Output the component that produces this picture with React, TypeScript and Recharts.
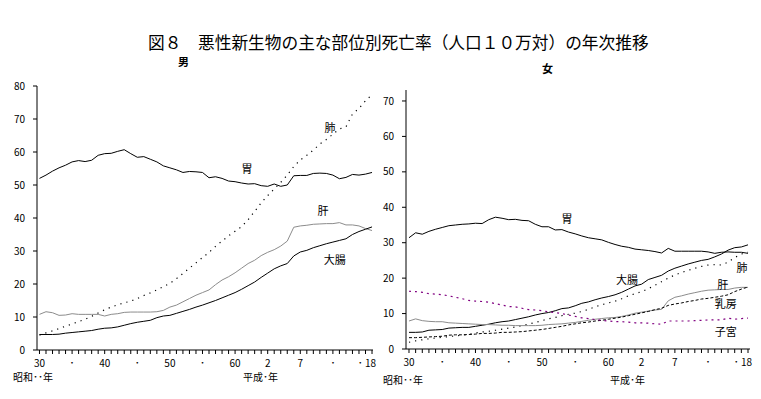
import React from 'react';
import { LineChart, Line, XAxis, YAxis, ReferenceDot } from 'recharts';

// 昭和30年〜平成18年（昭和81年相当）
const years = [
  30, 31, 32, 33, 34, 35, 36, 37, 38, 39, 40, 41, 42, 43, 44, 45, 46, 47, 48, 49,
  50, 51, 52, 53, 54, 55, 56, 57, 58, 59, 60, 61, 62, 63, 64, 65, 66, 67, 68, 69,
  70, 71, 72, 73, 74, 75, 76, 77, 78, 79, 80, 81,
];

const xTickLabels: Record<number, string> = {
  30: '30', 35: '･', 40: '40', 45: '･', 50: '50', 55: '･', 60: '60', 65: '2', 70: '7', 75: '･', 81: '･ 18',
};

// 男
const maleStomach = [
  52.0, 53.0, 54.2, 55.2, 56.0, 57.0, 57.4, 57.1, 57.5, 59.0, 59.5, 59.6, 60.2, 60.7, 59.5, 58.4, 58.6, 57.8, 57.0, 55.8,
  55.2, 54.6, 53.8, 54.1, 54.0, 53.8, 52.2, 52.5, 52.0, 51.2, 51.0, 50.6, 50.3, 50.4, 49.8, 49.6, 50.3, 49.6, 50.0, 52.8,
  52.9, 52.9, 53.5, 53.6, 53.5, 53.0, 51.9, 52.3, 53.2, 53.0, 53.3, 53.8,
];
const maleLung = [
  4.5, 5.2, 5.8, 6.5, 7.2, 7.9, 8.6, 9.3, 10.2, 11.2, 12.2, 13.0, 13.7, 14.3, 14.8, 15.6, 16.5, 17.3, 18.2, 19.2,
  20.2, 21.6, 23.2, 24.8, 26.4, 28.0, 29.6, 31.4, 33.0, 34.6, 36.0, 37.4, 39.5, 42.0, 44.6, 46.8, 48.8, 50.8, 53.0, 55.6,
  57.6, 59.0, 60.6, 62.4, 63.8, 65.4, 67.0, 67.6, 71.5, 73.2, 75.5, 77.4,
];
const maleLiver = [
  10.8, 11.6, 11.3, 10.5, 10.6, 11.0, 10.8, 10.8, 10.8, 10.8, 10.3, 10.8, 11.0, 11.4, 11.5, 11.5, 11.5, 11.5, 11.6, 12.0,
  13.0, 13.6, 14.6, 15.6, 16.6, 17.4, 18.2, 19.8, 21.2, 22.2, 23.4, 24.8, 26.2, 27.2, 28.6, 29.6, 30.4, 31.5, 33.0, 37.2,
  37.6, 37.8, 38.1, 38.2, 38.3, 38.3, 38.6, 37.9, 37.9, 37.6, 36.8, 36.2,
];
const maleColon = [
  4.7, 4.7, 4.7, 4.8, 5.1, 5.3, 5.5, 5.7, 5.9, 6.3, 6.6, 6.7, 7.0, 7.5, 8.0, 8.4, 8.7, 9.0, 9.8, 10.3,
  10.5, 11.1, 11.7, 12.3, 13.0, 13.6, 14.3, 15.0, 15.8, 16.6, 17.4, 18.4, 19.5, 20.6, 22.0, 23.3, 24.6, 25.5, 26.2, 28.5,
  29.7, 30.2, 31.0, 31.6, 32.2, 32.7, 33.2, 33.7, 35.0, 35.9, 36.6, 37.3,
];

// 女
const femaleStomach = [
  31.4, 32.8, 32.4, 33.2, 33.8, 34.3, 34.8, 35.0, 35.2, 35.3, 35.5, 35.4, 36.5, 37.2, 36.9, 36.5, 36.6, 36.3, 36.2, 35.2,
  34.5, 34.5, 33.6, 33.7, 33.0, 32.5, 31.9, 31.4, 31.1, 30.8, 30.1, 29.5, 29.0, 28.7, 28.2, 28.0, 27.8, 27.5, 27.1, 28.4,
  27.6, 27.6, 27.6, 27.6, 27.6, 27.4, 27.0, 27.3, 27.4, 27.3, 27.3, 27.0,
];
const femaleColon = [
  4.7, 4.7, 4.8, 5.3, 5.4, 5.5, 5.9, 6.0, 6.1, 6.1, 6.4, 6.7, 7.0, 7.4, 7.7, 7.9, 8.3, 8.7, 9.1, 9.6,
  10.0, 10.3, 10.8, 11.4, 11.6, 12.2, 12.9, 13.3, 13.9, 14.4, 14.8, 15.3, 16.0, 16.9, 17.8, 18.3, 19.6, 20.2, 20.8, 22.0,
  22.8, 23.4, 24.0, 24.5, 25.0, 25.3, 26.0, 26.8, 27.9, 28.6, 28.8, 29.4,
];
const femaleLung = [
  1.9, 2.3, 2.6, 2.9, 3.1, 3.3, 3.5, 3.7, 3.9, 4.1, 4.5, 4.8, 5.0, 5.3, 5.6, 5.9, 6.2, 6.6, 7.0, 7.5,
  8.0, 8.5, 8.9, 9.4, 9.8, 10.1, 10.6, 11.2, 11.9, 12.5, 13.0, 13.5, 14.2, 15.0, 15.6, 16.2, 17.0, 18.0, 19.0, 20.0,
  20.9, 21.6, 22.2, 22.8, 23.3, 23.7, 23.8, 23.7, 24.5, 25.8, 26.8, 27.3,
];
const femaleLiver = [
  7.9, 8.5, 8.0, 7.8, 7.7, 7.7, 7.4, 7.3, 7.2, 7.1, 7.0, 6.9, 6.9, 6.8, 6.7, 6.7, 6.6, 6.6, 6.6, 6.6,
  6.7, 6.9, 7.0, 7.1, 7.3, 7.5, 7.8, 8.1, 8.4, 8.6, 8.8, 8.9, 9.2, 9.6, 10.1, 10.4, 10.7, 11.0, 11.2, 13.6,
  14.6, 15.0, 15.5, 15.9, 16.3, 16.6, 16.7, 16.8, 16.8, 17.2, 17.4, 17.4,
];
const femaleBreast = [
  3.2, 3.2, 3.3, 3.4, 3.5, 3.6, 3.9, 4.0, 4.0, 4.1, 4.2, 4.4, 4.4, 4.5, 4.7, 4.7, 4.8, 4.9, 5.1, 5.3,
  5.5, 5.8, 6.1, 6.4, 6.8, 7.1, 7.4, 7.6, 7.9, 8.1, 8.4, 8.7, 9.0, 9.4, 9.8, 10.2, 10.6, 11.1, 11.5, 12.3,
  12.7, 13.0, 13.4, 13.7, 14.1, 14.3, 14.6, 14.9, 15.3, 16.2, 16.9, 17.5,
];
const femaleUterus = [
  16.3, 16.2, 16.0, 15.6, 15.5, 15.3, 15.0, 14.6, 14.2, 13.7, 13.5, 13.4, 13.2, 12.8, 12.4, 12.0, 11.9, 11.5, 11.1, 11.0,
  10.8, 10.5, 10.3, 10.0, 9.6, 9.2, 8.8, 8.6, 8.3, 8.1, 7.9, 7.7, 7.7, 7.6, 7.4, 7.4, 7.3, 7.1, 7.0, 7.9,
  7.9, 7.9, 7.9, 8.0, 8.1, 8.2, 8.2, 8.2, 8.7, 8.4, 8.6, 8.7,
];

const maleTicks = [0, 10, 20, 30, 40, 50, 60, 70, 80];
const femaleTicks = [0, 10, 20, 30, 40, 50, 60, 70];

const maleData = years.map((y, i) => ({
  year: y, stomach: maleStomach[i], lung: maleLung[i], liver: maleLiver[i], colon: maleColon[i],
}));
const femaleData = years.map((y, i) => ({
  year: y, stomach: femaleStomach[i], colon: femaleColon[i], lung: femaleLung[i],
  liver: femaleLiver[i], breast: femaleBreast[i], uterus: femaleUterus[i],
}));

const FONT = '"Noto Sans CJK JP", "Noto Sans", sans-serif';

const XTick = (props: any) => {
  const { x, y, payload } = props;
  const label = xTickLabels[payload.value];
  if (!label) return null;
  const last = payload.value === 81;
  return (
    <text x={last ? x + 4 : x} y={y} dy={9} textAnchor={last ? 'end' : 'middle'}
      fontSize={10} fontFamily={FONT} fill="#000">
      {label}
    </text>
  );
};

const label = (text: string) => (p: any) => (
  <text x={p.cx} y={p.cy} textAnchor="middle" dominantBaseline="central"
    fontSize={11} fontFamily={FONT} fill="#000">
    {text}
  </text>
);

const axisStyle = { stroke: '#000' };
const yTick = { fontSize: 10, fontFamily: FONT, fill: '#000' };

const abs = (left: number, top: number, extra: React.CSSProperties = {}): React.CSSProperties => ({
  position: 'absolute', left, top, fontFamily: FONT, whiteSpace: 'nowrap', lineHeight: 1, ...extra,
});

export default function App() {
  return (
    <div style={{ position: 'absolute', left: 0, top: 0, width: 761, height: 399, background: '#fff', overflow: 'hidden' }}>
      <div style={abs(148, 34, { fontSize: 16.7 })}>
        図８　悪性新生物の主な部位別死亡率（人口１０万対）の年次推移
      </div>
      <div style={abs(178, 56, { fontSize: 11, fontWeight: 'bold' })}>男</div>
      <div style={abs(542, 63, { fontSize: 11, fontWeight: 'bold' })}>女</div>

      <div style={{ position: 'absolute', left: 0, top: 0 }}>
        <LineChart width={380} height={399} data={maleData} margin={{ top: 86, right: 7, bottom: 19, left: 7 }}>
          <XAxis dataKey="year" type="number" domain={[29.62, 81.15]} ticks={years} interval={0}
            axisLine={axisStyle} tickLine={axisStyle} tickSize={4} tickMargin={4} height={30} tick={<XTick />} />
          <YAxis type="number" domain={[0, 80]} ticks={maleTicks} interval={0} width={30}
            axisLine={axisStyle} tickLine={axisStyle} tickSize={4} tickMargin={8} tick={yTick} />
          <Line dataKey="stomach" stroke="#000" strokeWidth={1} dot={false} isAnimationActive={false} />
          <Line dataKey="lung" stroke="#000" strokeWidth={1.2} strokeDasharray="1.2 5" dot={false} isAnimationActive={false} />
          <Line dataKey="liver" stroke="#8c8c8c" strokeWidth={1} dot={false} isAnimationActive={false} />
          <Line dataKey="colon" stroke="#000" strokeWidth={1} dot={false} isAnimationActive={false} />
          <ReferenceDot x={74.56} y={67.6} r={0} shape={label('肺')} />
          <ReferenceDot x={61.83} y={55.2} r={0} shape={label('胃')} />
          <ReferenceDot x={73.5} y={42.4} r={0} shape={label('肝')} />
          <ReferenceDot x={75.3} y={27.6} r={0} shape={label('大腸')} />
        </LineChart>
      </div>

      <div style={{ position: 'absolute', left: 370, top: 0 }}>
        <LineChart width={391} height={399} data={femaleData} margin={{ top: 90, right: 11, bottom: 20, left: 6 }}>
          <XAxis dataKey="year" type="number" domain={[29.55, 81.3]} ticks={years} interval={0}
            axisLine={axisStyle} tickLine={axisStyle} tickSize={4} tickMargin={4} height={30} tick={<XTick />} />
          <YAxis type="number" domain={[0, 73.1]} ticks={femaleTicks} interval={0} width={30}
            axisLine={axisStyle} tickLine={axisStyle} tickSize={4} tickMargin={8} tick={yTick} />
          <Line dataKey="stomach" stroke="#000" strokeWidth={1} dot={false} isAnimationActive={false} />
          <Line dataKey="colon" stroke="#000" strokeWidth={1} dot={false} isAnimationActive={false} />
          <Line dataKey="lung" stroke="#000" strokeWidth={1.2} strokeDasharray="1.2 5" dot={false} isAnimationActive={false} />
          <Line dataKey="liver" stroke="#8c8c8c" strokeWidth={1} dot={false} isAnimationActive={false} />
          <Line dataKey="breast" stroke="#000" strokeWidth={1} strokeDasharray="3 2" dot={false} isAnimationActive={false} />
          <Line dataKey="uterus" stroke="#800080" strokeWidth={1.2} strokeDasharray="2 4" dot={false} isAnimationActive={false} />
          <ReferenceDot x={53.76} y={37.0} r={0} shape={label('胃')} />
          <ReferenceDot x={62.8} y={19.8} r={0} shape={label('大腸')} />
          <ReferenceDot x={80.08} y={23.1} r={0} shape={label('肺')} />
          <ReferenceDot x={77.2} y={18.3} r={0} shape={label('肝')} />
          <ReferenceDot x={77.67} y={13.0} r={0} shape={label('乳房')} />
          <ReferenceDot x={77.67} y={5.1} r={0} shape={label('子宮')} />
        </LineChart>
      </div>

      <div style={abs(13, 372, { fontSize: 10 })}>昭和･･年</div>
      <div style={abs(243, 372, { fontSize: 10 })}>平成･年</div>
      <div style={abs(383, 375, { fontSize: 10 })}>昭和･･年</div>
      <div style={abs(610, 375, { fontSize: 10 })}>平成･年</div>
    </div>
  );
}
